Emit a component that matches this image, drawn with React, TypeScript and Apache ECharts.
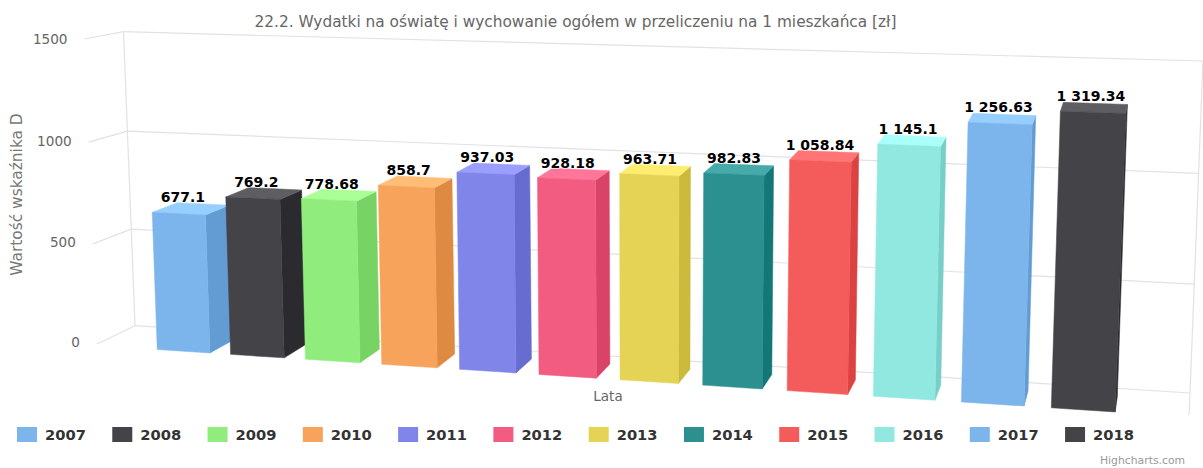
import React, { useEffect, useRef } from "react";
import * as echarts from "echarts";

const categories = ["2007","2008","2009","2010","2011","2012","2013","2014","2015","2016","2017","2018"];
const values = [677.1,769.2,778.68,858.7,937.03,928.18,963.71,982.83,1058.84,1145.1,1256.63,1319.34];
const labels = ["677.1","769.2","778.68","858.7","937.03","928.18","963.71","982.83","1 058.84","1 145.1","1 256.63","1 319.34"];
const colors = ["#7cb5ec","#434348","#90ed7d","#f7a35c","#8085e9","#f15c80","#e4d354","#2b908f","#f45b5b","#91e8e1","#7cb5ec","#434348"];
const yTicks = [0,500,1000,1500];

// plane corners of the 3D frame on screen: BL, BR, TR, TL
const BACK = [[135,325.7],[1190,393],[1203,61],[123.5,31.7]];
const FRONT = [[97,344],[1189,415],[1203,73],[84.5,39]];
const PAD_L = 0.0553, PAD_R = 0.048, WARP = 0.0198, BAR_HALF = 0.355, Z_FRONT = -0.08, Z_BACK = 0.62;
const FONT = '"DejaVu Sans", sans-serif';

function homography(q: number[][]) {
  const [[x0,y0],[x1,y1],[x2,y2],[x3,y3]] = q;
  const dx1=x1-x2, dx2=x3-x2, sx=x0-x1+x2-x3, dy1=y1-y2, dy2=y3-y2, sy=y0-y1+y2-y3;
  const den=dx1*dy2-dx2*dy1;
  const g=(sx*dy2-dx2*sy)/den, h=(dx1*sy-sx*dy1)/den;
  const a=x1-x0+g*x1, b=x3-x0+h*x3, d=y1-y0+g*y1, e=y3-y0+h*y3;
  return (u:number,v:number)=>{ const w=g*u+h*v+1; return [(a*u+b*v+x0)/w,(d*u+e*v+y0)/w]; };
}
const hBack = homography(BACK), hFront = homography(FRONT);
function project(u:number,v:number,z:number){
  const f=hFront(u,v), b=hBack(u,v);
  return [f[0]+(b[0]-f[0])*z, f[1]+(b[1]-f[1])*z];
}
function shade(hex:string,d:number){
  const n=parseInt(hex.slice(1),16);
  const c=(s:number)=>Math.max(0,Math.min(255,((n>>s)&255)+d));
  return `rgb(${c(16)},${c(8)},${c(0)})`;
}
function toUV(api:any,params:any,cat:number,val:number){
  const cs=params.coordSys, p=api.coord([cat,val]), bw=api.size([1,0])[0];
  const span=1-PAD_L-PAD_R;
  const raw=PAD_L+span*(p[0]-cs.x)/cs.width;
  const u=raw-WARP*raw*(1-raw);
  const v=1-(p[1]-cs.y)/cs.height;
  return {u,v,hw:BAR_HALF*span*bw/cs.width};
}
function renderBar(params:any,api:any){
  const i=api.value(0), val=api.value(1), col=colors[i];
  const {u,v,hw}=toUV(api,params,i,val);
  const l=u-hw, r=u+hw;
  const poly=(pts:number[][],fill:string)=>({type:"polygon",shape:{points:pts},style:{fill,stroke:fill,lineWidth:0.5}});
  return {type:"group",children:[
    poly([project(r,0,Z_FRONT),project(r,0,Z_BACK),project(r,v,Z_BACK),project(r,v,Z_FRONT)],shade(col,-25.5)),
    poly([project(l,v,Z_FRONT),project(r,v,Z_FRONT),project(r,v,Z_BACK),project(l,v,Z_BACK)],shade(col,25.5)),
    poly([project(l,0,Z_FRONT),project(r,0,Z_FRONT),project(r,v,Z_FRONT),project(l,v,Z_FRONT)],col),
  ]};
}
function renderLabel(params:any,api:any){
  const i=api.value(0), val=api.value(1);
  const {u,v}=toUV(api,params,i,val);
  const p=project(u,v,Z_FRONT+0.05);
  return {type:"text",style:{text:labels[i],x:p[0]+2.8-5.5*u,y:p[1]-15.5,align:"center",verticalAlign:"middle",textAlign:"center",textVerticalAlign:"middle",
    font:`bold 14px ${FONT}`,fill:"#000",stroke:"#fff",lineWidth:1}};
}
function renderTick(params:any,api:any){
  const t=api.value(1);
  const {v}=toUV(api,params,0,t);
  const ln=(a:number[],b:number[])=>({type:"line",shape:{x1:a[0],y1:a[1],x2:b[0],y2:b[1]},style:{stroke:"#e2e2e2",lineWidth:1.2}});
  const f=project(0,v,0);
  const kids:any[]=[
    ln(project(0,v,1),project(1,v,1)),
    ln(project(0,v,1),f),
    {type:"text",style:{text:String(t),x:f[0]-17,y:f[1]-2+1.5*v,align:"right",verticalAlign:"middle",textAlign:"right",textVerticalAlign:"middle",font:`13.6px ${FONT}`,fill:"#666"}},
  ];
  if(t===yTicks[0]){
    kids.push(ln(project(0,0,1),project(0,1,1)));
    kids.push(ln(project(1,0,1),project(1,1,1)));
    kids.push(ln(project(1,0,1),project(1,0,0)));
  }
  return {type:"group",children:kids};
}

export default function App(){
  const ref=useRef<HTMLDivElement>(null);
  useEffect(()=>{
    const chart=echarts.init(ref.current!,undefined,{renderer:"svg"});
    chart.setOption({
      animation:false,
      backgroundColor:"#fff",
      title:[
        {text:"22.2. Wydatki na oświatę i wychowanie ogółem w przeliczeniu na 1 mieszkańca [zł]",left:570.5,top:9,textAlign:"center",textStyle:{fontFamily:FONT,fontSize:15.35,fontWeight:"normal",color:"#666"}},
        {text:"Lata",left:603,top:384,textAlign:"center",textStyle:{fontFamily:FONT,fontSize:13.5,fontWeight:"normal",color:"#666"}},
        {text:"Highcharts.com",right:13,top:450,textStyle:{fontFamily:FONT,fontSize:10.8,fontWeight:"normal",color:"#999"}},
      ],
      legend:{
        data:categories,left:17,top:427,padding:0,orient:"horizontal",icon:"rect",itemWidth:20,itemHeight:15,itemGap:26.4,
        selectedMode:false,
        textStyle:{fontFamily:FONT,fontSize:14.7,fontWeight:"bold",color:"#333",padding:[0,0,0,3]},
      },
      grid:{left:100,right:100,top:40,bottom:60},
      xAxis:{type:"category",data:categories,show:false},
      yAxis:{type:"value",min:0,max:1500,interval:500,show:false},
      graphic:[{type:"text",rotation:Math.PI/2,x:17,y:194.5,style:{text:"Wartość wskaźnika D",align:"center",verticalAlign:"middle",font:`15.4px ${FONT}`,fill:"#777"}}],
      series:[
        {type:"custom",name:"ticks",silent:true,z:1,renderItem:renderTick,encode:{x:0,y:1},data:yTicks.map(t=>[0,t])},
        ...categories.map((c,i)=>({type:"custom",name:c,z:2,silent:true,itemStyle:{color:colors[i]},renderItem:renderBar,encode:{x:0,y:1},data:[[i,values[i]]]})),
        {type:"custom",name:"labels",silent:true,z:5,renderItem:renderLabel,encode:{x:0,y:1},data:values.map((v,i)=>[i,v])},
      ],
    });
    return ()=>chart.dispose();
  },[]);
  return <div ref={ref} style={{position:"absolute",left:0,top:0,width:1203,height:468}}/>;
}
